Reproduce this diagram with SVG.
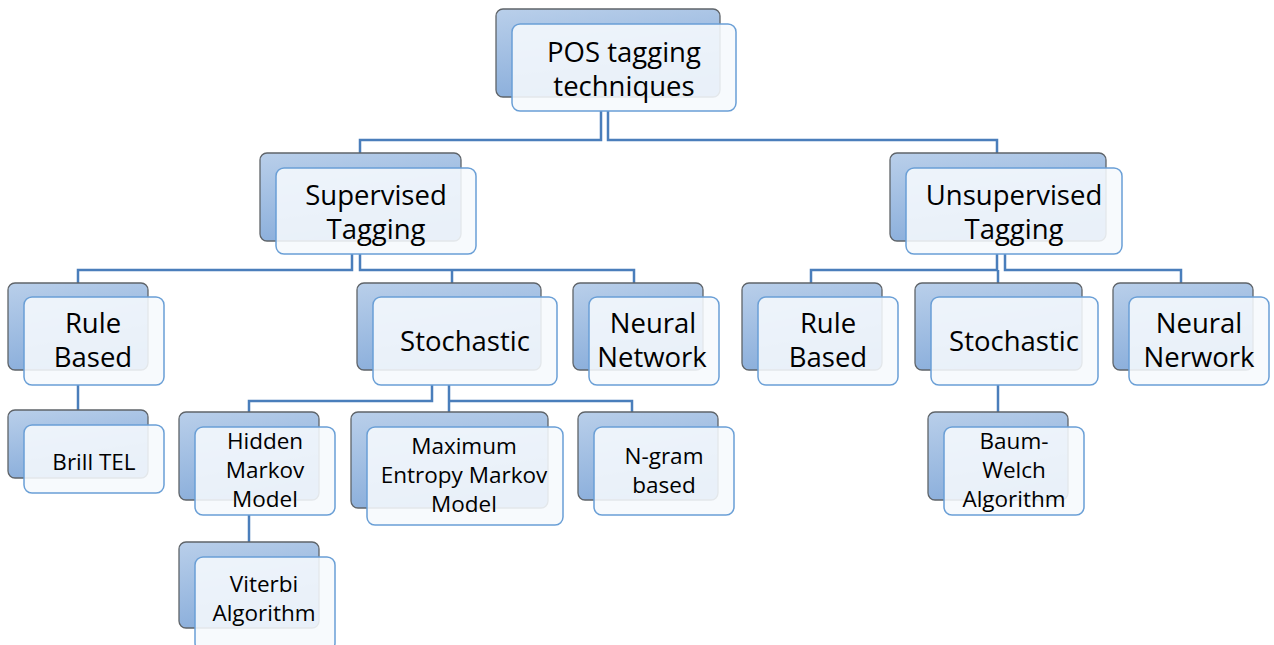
<svg xmlns="http://www.w3.org/2000/svg" width="1274" height="645" viewBox="0 0 1274 645">
  <defs>
    <linearGradient id="backFill" x1="0" y1="0" x2="0.3" y2="1">
      <stop offset="0" stop-color="#b9cfea"/>
      <stop offset="1" stop-color="#8aaedb"/>
    </linearGradient>
    <style>
      .back { fill: url(#backFill); stroke: #5f6469; stroke-width: 1.3; }
      .front { fill: #f6f9fd; fill-opacity: 0.88; stroke: #6a9fd6; stroke-width: 1.5; }
      .lbl { font-family: "Open Sans", "Liberation Sans", sans-serif; fill: #000; text-anchor: middle; }
      .big { font-size: 27.5px; }
      .small { font-size: 22.5px; }
      .conn path { fill: none; stroke: #4a7ebb; stroke-width: 2.5; }
    </style>
  </defs>
  <rect width="1274" height="645" fill="#ffffff"/>

  <!-- connectors -->
  <g class="conn">
    <path d="M601 111 V140 H360 V153"/>
    <path d="M608 111 V140 H997 V153"/>
    <path d="M352 254 V270 H78 V283"/>
    <path d="M360 254 V270 H634 V283 M452 270 V283"/>
    <path d="M997 254 V270 H811 V283"/>
    <path d="M1005 254 V270 H1181 V283 M998 270 V283"/>
    <path d="M78 385 V410"/>
    <path d="M432 385 V401 H249 V412"/>
    <path d="M449 385 V401 H632 V412 M449 401 V412"/>
    <path d="M249 515 V542"/>
    <path d="M998 385 V412"/>
  </g>

  <g id="pos-tagging">
    <rect class="back" x="496" y="9" width="224" height="88" rx="7"/>
    <rect class="front" x="512" y="24" width="224" height="87" rx="8"/>
    <text class="lbl big" x="624" y="62">POS tagging</text>
    <text class="lbl big" x="624" y="96">techniques</text>
  </g>

  <g id="supervised">
    <rect class="back" x="260" y="153" width="201" height="88" rx="7"/>
    <rect class="front" x="276" y="168" width="200" height="86" rx="8"/>
    <text class="lbl big" x="376" y="205">Supervised</text>
    <text class="lbl big" x="376" y="239">Tagging</text>
  </g>

  <g id="unsupervised">
    <rect class="back" x="890" y="153" width="216" height="88" rx="7"/>
    <rect class="front" x="906" y="168" width="216" height="86" rx="8"/>
    <text class="lbl big" x="1014" y="205">Unsupervised</text>
    <text class="lbl big" x="1014" y="239">Tagging</text>
  </g>

  <g id="sup-rule-based">
    <rect class="back" x="8" y="283" width="140" height="87" rx="7"/>
    <rect class="front" x="24" y="297" width="140" height="88" rx="8"/>
    <text class="lbl big" x="93" y="333">Rule</text>
    <text class="lbl big" x="93" y="367">Based</text>
  </g>

  <g id="sup-stochastic">
    <rect class="back" x="357" y="283" width="184" height="87" rx="7"/>
    <rect class="front" x="373" y="297" width="184" height="88" rx="8"/>
    <text class="lbl big" x="465" y="351">Stochastic</text>
  </g>

  <g id="sup-neural-network">
    <rect class="back" x="573" y="283" width="130" height="87" rx="7"/>
    <rect class="front" x="589" y="297" width="130" height="88" rx="8"/>
    <text class="lbl big" x="653" y="333">Neural</text>
    <text class="lbl big" x="652" y="367">Network</text>
  </g>

  <g id="unsup-rule-based">
    <rect class="back" x="742" y="283" width="140" height="87" rx="7"/>
    <rect class="front" x="758" y="297" width="140" height="88" rx="8"/>
    <text class="lbl big" x="828" y="333">Rule</text>
    <text class="lbl big" x="828" y="367">Based</text>
  </g>

  <g id="unsup-stochastic">
    <rect class="back" x="915" y="283" width="167" height="87" rx="7"/>
    <rect class="front" x="931" y="297" width="167" height="88" rx="8"/>
    <text class="lbl big" x="1014" y="351">Stochastic</text>
  </g>

  <g id="unsup-neural-nerwork">
    <rect class="back" x="1113" y="283" width="140" height="87" rx="7"/>
    <rect class="front" x="1129" y="297" width="140" height="88" rx="8"/>
    <text class="lbl big" x="1199" y="333">Neural</text>
    <text class="lbl big" x="1199" y="367">Nerwork</text>
  </g>

  <g id="brill-tel">
    <rect class="back" x="8" y="410" width="140" height="68" rx="7"/>
    <rect class="front" x="24" y="425" width="140" height="68" rx="8"/>
    <text class="lbl small" x="94" y="470">Brill TEL</text>
  </g>

  <g id="hidden-markov-model">
    <rect class="back" x="179" y="412" width="140" height="88" rx="7"/>
    <rect class="front" x="195" y="427" width="140" height="88" rx="8"/>
    <text class="lbl small" x="265" y="449">Hidden</text>
    <text class="lbl small" x="265" y="478">Markov</text>
    <text class="lbl small" x="265" y="507">Model</text>
  </g>

  <g id="maximum-entropy">
    <rect class="back" x="351" y="412" width="197" height="96" rx="7"/>
    <rect class="front" x="367" y="427" width="196" height="98" rx="8"/>
    <text class="lbl small" x="464" y="454">Maximum</text>
    <text class="lbl small" x="464" y="483">Entropy Markov</text>
    <text class="lbl small" x="464" y="512">Model</text>
  </g>

  <g id="n-gram">
    <rect class="back" x="578" y="412" width="140" height="88" rx="7"/>
    <rect class="front" x="594" y="427" width="140" height="88" rx="8"/>
    <text class="lbl small" x="664" y="464">N-gram</text>
    <text class="lbl small" x="664" y="493">based</text>
  </g>

  <g id="viterbi">
    <rect class="back" x="179" y="542" width="140" height="86" rx="7"/>
    <rect class="front" x="195" y="557" width="140" height="94" rx="8"/>
    <text class="lbl small" x="264" y="592">Viterbi</text>
    <text class="lbl small" x="264" y="621">Algorithm</text>
  </g>

  <g id="baum-welch">
    <rect class="back" x="928" y="412" width="140" height="88" rx="7"/>
    <rect class="front" x="944" y="427" width="140" height="88" rx="8"/>
    <text class="lbl small" x="1014" y="449">Baum-</text>
    <text class="lbl small" x="1014" y="478">Welch</text>
    <text class="lbl small" x="1014" y="507">Algorithm</text>
  </g>
</svg>
